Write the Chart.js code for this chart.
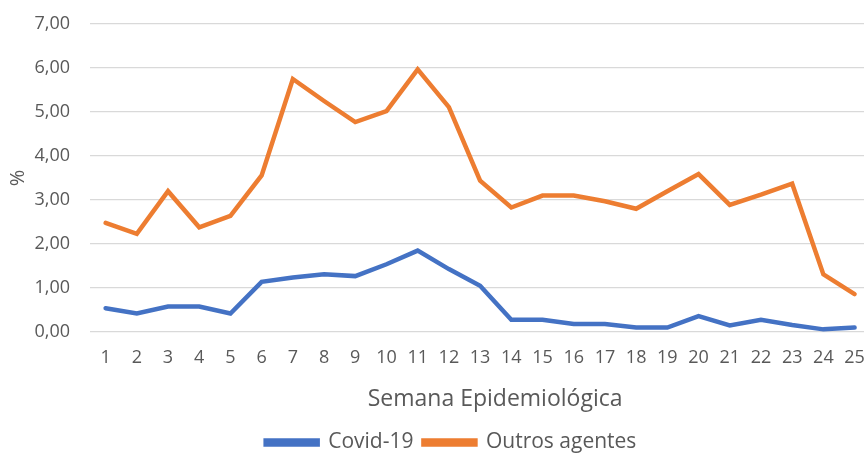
<!DOCTYPE html>
<html>
<head>
<meta charset="utf-8">
<script src="https://cdn.jsdelivr.net/npm/chart.js@4"></script>
<style>
  html, body { margin: 0; padding: 0; background: #fff; overflow: hidden; }
  #wrap { width: 880px; height: 454px; }
</style>
</head>
<body>
<div id="wrap"><canvas id="grafico" width="880" height="454"></canvas></div>
<script>
var semanas = ['1','2','3','4','5','6','7','8','9','10','11','12','13','14','15','16','17','18','19','20','21','22','23','24','25'];
var covid19 = [0.54, 0.42, 0.58, 0.58, 0.42, 1.14, 1.24, 1.31, 1.27, 1.54, 1.85, 1.43, 1.05, 0.28, 0.28, 0.18, 0.18, 0.10, 0.10, 0.36, 0.15, 0.28, 0.16, 0.06, 0.10];
var outrosAgentes = [2.48, 2.23, 3.20, 2.38, 2.64, 3.56, 5.75, 5.25, 4.77, 5.02, 5.97, 5.11, 3.44, 2.83, 3.10, 3.10, 2.97, 2.80, 3.20, 3.59, 2.89, 3.12, 3.37, 1.31, 0.86];

var fonte = "'Open Sans', sans-serif";
var cinza = '#595959';

// desloca a legenda e o título do eixo x, como no original
var ajustarPosicoes = {
    id: 'ajustarPosicoes',
    afterLayout: function (chart) {
        chart.legend.left += 14;
        chart.legend.right += 14;
        chart.legend.top += 9;
        chart.legend.bottom += 9;
        // só afeta o título: os pixels dos ticks já foram calculados
        chart.scales.x.left += 15;
        chart.scales.x.right += 15;
    }
};

var ctx = document.getElementById('grafico').getContext('2d');
new Chart(ctx, {
    type: 'line',
    data: {
        labels: semanas,
        datasets: [{
            label: 'Covid-19',
            data: covid19,
            borderColor: '#4472C4',
            backgroundColor: '#4472C4',
            borderWidth: 4.5,
            pointRadius: 0,
            tension: 0,
            borderCapStyle: 'round'
        }, {
            label: 'Outros agentes',
            data: outrosAgentes,
            borderColor: '#ED7D31',
            backgroundColor: '#ED7D31',
            borderWidth: 4.5,
            pointRadius: 0,
            tension: 0,
            borderCapStyle: 'round'
        }]
    },
    plugins: [ajustarPosicoes],
    options: {
        responsive: false,
        animation: false,
        layout: { padding: { top: 24, right: 6, left: 0, bottom: 0 } },
        plugins: {
            legend: {
                position: 'bottom',
                labels: {
                    color: cinza,
                    font: { family: fonte, size: 21 },
                    boxWidth: 52,
                    boxHeight: 4,
                    padding: 10
                }
            },
            tooltip: { enabled: false }
        },
        scales: {
            x: {
                offset: true,
                grid: { display: false, drawTicks: false },
                border: { display: false },
                ticks: { color: cinza, font: { family: fonte, size: 18 }, padding: 15, maxRotation: 0, autoSkip: false },
                title: { display: true, text: 'Semana Epidemiológica', color: cinza, font: { family: fonte, size: 23 }, padding: { top: 0, bottom: 0 } },
                afterFit: function (scale) { scale.height = 81; }
            },
            y: {
                min: 0,
                max: 7,
                grid: { color: '#D9D9D9', lineWidth: 1.3, drawTicks: false },
                border: { display: false },
                ticks: {
                    stepSize: 1,
                    color: cinza,
                    font: { family: fonte, size: 18 },
                    padding: 20,
                    callback: function (v) { return v.toFixed(2).replace('.', ','); }
                },
                title: { display: true, text: '%', color: cinza, font: { family: fonte, size: 20 }, padding: { top: 6, bottom: 0 } },
                afterFit: function (scale) {
                    scale.width = 90;
                    scale.paddingTop = 0;
                    scale.paddingBottom = 0;
                }
            }
        }
    }
});
</script>
</body>
</html>
